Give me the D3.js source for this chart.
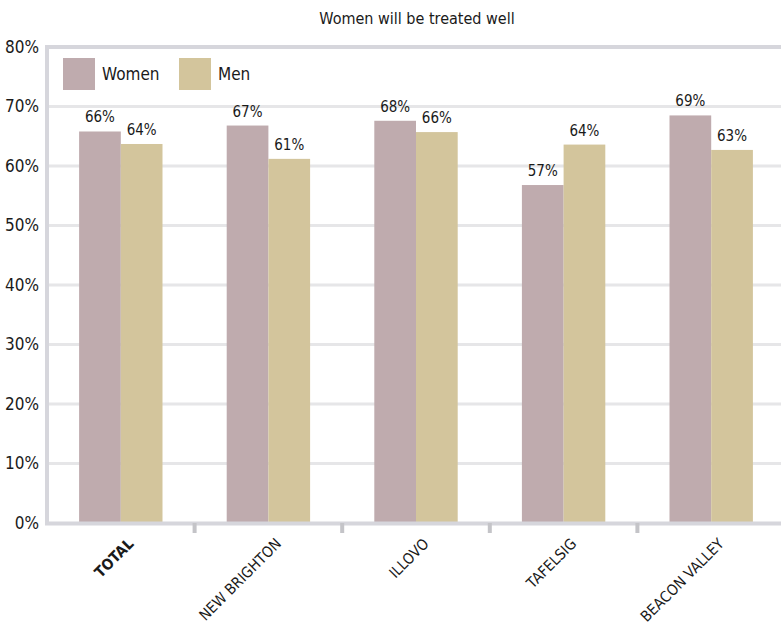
<!DOCTYPE html>
<html>
<head>
<meta charset="utf-8">
<script src="https://cdn.jsdelivr.net/npm/d3@7"></script>
<style>
  body { margin: 0; background: #fff; }
  svg text { font-family: "Liberation Sans Narrow", "DejaVu Sans Condensed", sans-serif; fill: #1a1a1a; }
</style>
</head>
<body>
<div id="chart"></div>
<script>
var width = 781, height = 632;

// data
var categories = ["TOTAL", "NEW BRIGHTON", "ILLOVO", "TAFELSIG", "BEACON VALLEY"];
var series = ["Women", "Men"];
var women = [65.8, 66.8, 67.6, 56.8, 68.5];
var men = [63.7, 61.2, 65.7, 63.6, 62.7];
var yTicks = [0, 10, 20, 30, 40, 50, 60, 70, 80];
var colors = {Women: "#bfabae", Men: "#d3c59c"};

var data = categories.map(function(c, i) {
    return {cat: c, values: [{key: "Women", v: women[i]}, {key: "Men", v: men[i]}]};
});

var svg = d3.select("#chart").append("svg")
    .attr("width", width)
    .attr("height", height);

var x0 = d3.scaleBand()
    .domain(categories)
    .range([47, 785]);

var bw = x0.bandwidth();
var x1 = d3.scaleBand()
    .domain(series)
    .range([bw / 2 - 41.7, bw / 2 + 41.7]);

var y = d3.scaleLinear()
    .domain([0, 80])
    .range([523, 47]);

// gridlines
svg.selectAll("line.grid")
    .data(yTicks.filter(function(t) { return t > 0 && t < 80; }))
    .enter().append("line")
    .attr("class", "grid")
    .attr("x1", 47).attr("x2", width)
    .attr("y1", function(d) { return y(d); })
    .attr("y2", function(d) { return y(d); })
    .attr("stroke", "#e6e6e8")
    .attr("stroke-width", 3);

// frame lines
svg.append("line")
    .attr("x1", 45).attr("x2", width)
    .attr("y1", y(80)).attr("y2", y(80))
    .attr("stroke", "#d6d6dc").attr("stroke-width", 4);
svg.append("line")
    .attr("x1", 47).attr("x2", 47)
    .attr("y1", y(80) - 2).attr("y2", y(0) + 2)
    .attr("stroke", "#d6d6dc").attr("stroke-width", 4);

// y labels
svg.selectAll("text.ylab")
    .data(yTicks)
    .enter().append("text")
    .attr("class", "ylab")
    .attr("x", 39)
    .attr("y", function(d) { return y(d); })
    .attr("dy", "0.35em")
    .attr("text-anchor", "end")
    .style("font-size", "17px")
    .text(function(d) { return d + "%"; });

// bars
var groups = svg.selectAll("g.cat")
    .data(data)
    .enter().append("g")
    .attr("class", "cat")
    .attr("transform", function(d) { return "translate(" + x0(d.cat) + ",0)"; });

groups.selectAll("rect")
    .data(function(d) { return d.values; })
    .enter().append("rect")
    .attr("x", function(d) { return x1(d.key); })
    .attr("y", function(d) { return y(d.v); })
    .attr("width", x1.bandwidth())
    .attr("height", function(d) { return y(0) - y(d.v); })
    .attr("fill", function(d) { return colors[d.key]; });

groups.selectAll("text.val")
    .data(function(d) { return d.values; })
    .enter().append("text")
    .attr("class", "val")
    .attr("x", function(d) { return x1(d.key) + x1.bandwidth() / 2; })
    .attr("y", function(d) { return y(d.v) - 9; })
    .attr("text-anchor", "middle")
    .style("font-size", "15px")
    .text(function(d) { return Math.round(d.v) + "%"; });

// bottom axis line and ticks
svg.append("line")
    .attr("x1", 45).attr("x2", width)
    .attr("y1", y(0) + 0.5).attr("y2", y(0) + 0.5)
    .attr("stroke", "#d6d6dc").attr("stroke-width", 4);

svg.selectAll("rect.tick")
    .data(categories.slice(1))
    .enter().append("rect")
    .attr("class", "tick")
    .attr("x", function(d) { return x0(d) - 2; })
    .attr("y", y(0))
    .attr("width", 4)
    .attr("height", 10)
    .attr("fill", "#c4c4c8");

// category labels
svg.selectAll("text.xlab")
    .data(categories)
    .enter().append("text")
    .attr("class", "xlab")
    .attr("transform", function(d) {
        return "translate(" + (x0(d) + bw / 2 + 10) + ",541) rotate(-45)";
    })
    .attr("text-anchor", "end")
    .attr("dy", "0.35em")
    .style("font-size", "15px")
    .style("font-weight", function(d) { return d === "TOTAL" ? "bold" : "normal"; })
    .text(function(d) { return d; });

// legend
var legend = svg.selectAll("g.legend")
    .data(series)
    .enter().append("g")
    .attr("class", "legend")
    .attr("transform", function(d, i) { return "translate(" + (63 + i * 116) + ",58)"; });
legend.append("rect")
    .attr("width", 32).attr("height", 32)
    .attr("fill", function(d) { return colors[d]; });
legend.append("text")
    .attr("x", 39).attr("y", 16)
    .attr("dy", "0.35em")
    .style("font-size", "17px")
    .text(function(d) { return d; });

// title
svg.append("text")
    .attr("x", 417).attr("y", 18)
    .attr("dy", "0.35em")
    .attr("text-anchor", "middle")
    .style("font-size", "16px")
    .text("Women will be treated well");
</script>
</body>
</html>
